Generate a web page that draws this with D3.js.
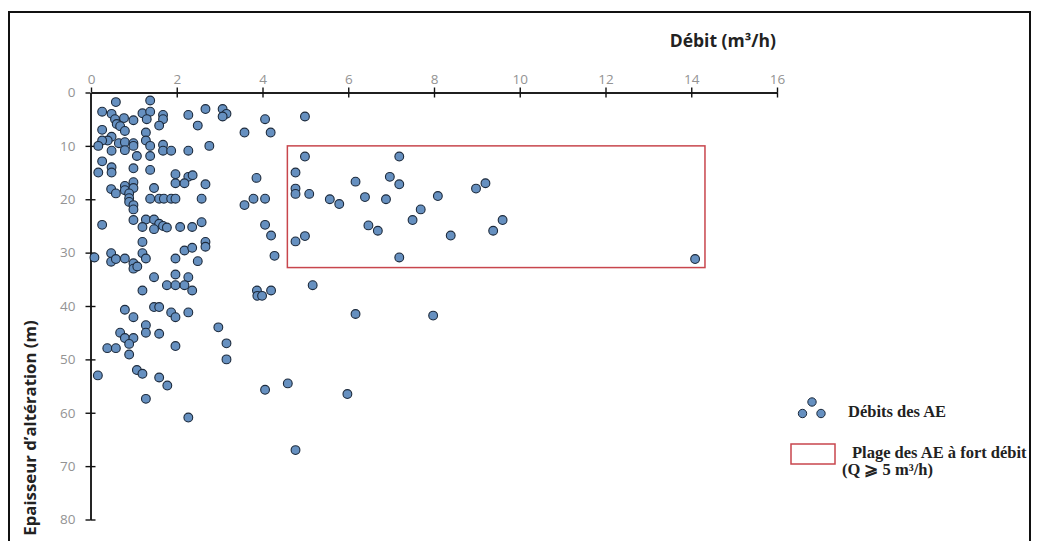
<!DOCTYPE html>
<html><head><meta charset="utf-8">
<script src="https://cdn.jsdelivr.net/npm/d3@7"></script>
<style>body{margin:0;background:#fff}svg{display:block}</style>
</head><body>
<svg id="c" width="1039" height="541"></svg>
<script>
// Débit (m3/h)
const debit = [0.58,1.38,0.26,0.48,1.20,1.38,1.68,2.67,3.07,3.16,3.07,2.27,4.06,4.99,0.56,0.77,0.99,1.30,1.68,0.60,0.68,0.79,0.26,1.28,1.59,2.49,3.58,4.19,0.48,0.39,0.26,0.17,0.65,0.79,0.99,0.99,1.28,1.38,0.79,0.48,1.68,1.68,1.87,2.27,2.76,1.07,1.38,0.26,4.99,7.19,
0.48,0.17,0.48,0.99,1.38,1.97,2.27,2.37,1.97,2.18,2.67,3.86,0.47,0.58,0.79,0.79,0.99,0.99,0.89,0.89,1.47,1.38,1.59,1.70,1.87,1.97,2.58,3.58,3.79,4.06,0.89,0.99,0.99,4.77,4.77,4.77,5.09,5.57,5.79,6.17,6.39,6.47,6.69,6.88,6.97,7.19,7.50,7.69,8.09,8.39,8.98,9.20,9.38,9.60,4.77,4.99,0.26,0.99,1.28,1.47,1.59,1.20,1.47,1.68,1.77,2.08,2.36,2.58,4.06,4.20,1.20,2.67,2.67,
2.18,2.36,0.08,0.47,0.47,0.58,0.79,0.99,0.99,1.08,1.20,1.28,1.97,2.49,4.28,7.19,14.09,1.47,1.97,2.27,1.77,1.97,2.18,2.36,1.20,3.87,3.88,3.99,4.20,5.17,
0.79,0.99,1.47,1.59,1.87,1.97,2.27,1.28,2.97,1.28,0.68,0.79,0.99,1.59,0.89,0.38,0.58,1.97,3.16,0.89,3.16,6.17,7.98,0.16,1.07,1.20,1.59,1.78,1.28,2.27,4.06,4.59,5.98,4.77];
// Epaisseur d'altération (m)
const epaisseur = [1.8,1.5,3.6,4.0,3.9,3.6,4.2,3.1,3.1,4.0,4.5,4.2,5.0,4.5,5.0,4.8,5.2,5.0,5.0,5.9,6.3,7.2,7.0,7.5,6.2,6.2,7.5,7.5,8.3,9.0,9.0,10.0,9.5,9.3,9.5,10.0,9.0,10.0,10.8,10.9,9.8,10.9,10.9,10.9,10.0,11.9,11.9,12.9,12.0,12.0,
14.0,15.0,15.0,14.2,14.5,15.3,15.8,15.5,17.0,17.0,17.2,16.0,18.1,18.9,17.5,18.3,16.8,17.9,18.9,19.8,17.9,19.9,19.9,19.9,19.9,19.9,19.9,21.1,19.9,19.9,20.5,21.1,21.9,15.0,18.0,19.0,19.0,20.0,20.9,16.7,19.6,24.9,25.9,20.0,15.8,17.2,23.9,21.9,19.4,26.8,18.0,17.0,25.9,23.9,27.9,26.9,24.8,23.9,23.8,23.8,24.6,25.2,25.6,25.0,25.3,25.2,25.2,24.3,24.8,26.8,28.0,28.0,28.9,
29.6,29.1,30.9,30.1,31.7,31.2,31.1,32.0,33.0,32.6,30.1,31.1,31.1,31.6,30.6,30.9,31.2,34.6,34.1,34.6,36.1,36.1,36.1,37.1,37.1,37.1,38.1,38.1,37.1,36.1,
40.7,42.1,40.2,40.2,41.2,42.1,41.2,43.6,44.0,45.0,45.0,46.0,46.0,45.2,47.1,47.9,47.9,47.5,47.0,49.1,50.0,41.5,41.8,53.0,52.0,52.7,53.4,54.9,57.4,60.9,55.7,54.5,56.5,67.0];
const xTicks = [0,2,4,6,8,10,12,14,16];
const yTicks = [0,10,20,30,40,50,60,70,80];
// high-flow range box: [debit min, debit max], [epaisseur min, epaisseur max]
const zoneDebit = [4.58, 14.32];
const zoneEpaisseur = [10, 32.8];
const xTitle = "Débit (m³/h)";
const yTitle = "Epaisseur d’altération (m)";
const legendLabels = ["Débits des AE", "Plage des AE à fort débit", "(Q ⩾ 5 m³/h)"];

const svg = d3.select("#c");
const x = d3.scaleLinear().domain([0,16]).range([91,777]);
const y = d3.scaleLinear().domain([0,80]).range([92.5,519.5]);
const sans = "'Open Sans', 'DejaVu Sans', sans-serif";
const serif = "'Liberation Serif', 'DejaVu Serif', serif";

// outer frame
svg.append("rect").attr("x",9).attr("y",12).attr("width",1021).attr("height",545)
  .attr("fill","none").attr("stroke","#111").attr("stroke-width",2);

// axes
function styleAxis(g, showText){
  g.select(".domain").attr("stroke","#111").attr("stroke-width",1.4);
  g.selectAll(".tick line").attr("stroke","#111").attr("stroke-width",1.4);
  g.selectAll(".tick text").attr("fill","#939393").style("font-family",sans).style("font-size","13.5px");
  if(!showText) g.selectAll(".tick text").remove();
}
const gx1 = svg.append("g").attr("transform",`translate(0,${y(0)})`)
  .call(d3.axisTop(x).tickValues(xTicks).tickSize(5).tickPadding(3.5).tickSizeOuter(0));
styleAxis(gx1,true);
const gx2 = svg.append("g").attr("transform",`translate(0,${y(0)})`)
  .call(d3.axisBottom(x).tickValues(xTicks.slice(1)).tickSize(5).tickSizeOuter(0));
styleAxis(gx2,false);
const gy1 = svg.append("g").attr("transform",`translate(${x(0)-0.5},0)`)
  .call(d3.axisLeft(y).tickValues(yTicks).tickSize(5).tickPadding(10).tickSizeOuter(0));
styleAxis(gy1,true);
const gy2 = svg.append("g").attr("transform",`translate(${x(0)-0.5},0)`)
  .call(d3.axisRight(y).tickValues(yTicks.slice(1)).tickSize(5).tickSizeOuter(0));
styleAxis(gy2,false);

// titles
svg.append("text").attr("x",776).attr("y",47).attr("text-anchor","end")
  .style("font-family",sans).style("font-weight","bold").style("font-size","17.5px").attr("fill","#222")
  .text(xTitle);
svg.append("text").attr("transform","translate(36,428) rotate(-90)").attr("text-anchor","middle")
  .style("font-family",sans).style("font-weight","bold").style("font-size","16.8px").attr("fill","#222")
  .text(yTitle);

// high-flow zone
svg.append("rect").attr("x",x(zoneDebit[0])).attr("y",y(zoneEpaisseur[0]))
  .attr("width",x(zoneDebit[1])-x(zoneDebit[0])).attr("height",y(zoneEpaisseur[1])-y(zoneEpaisseur[0]))
  .attr("fill","none").attr("stroke","#c8464d").attr("stroke-width",1.5);

// points
const pts = debit.map((d,i)=>({d, e:epaisseur[i]}));
svg.append("g").selectAll("circle").data(pts).join("circle")
  .attr("cx",p=>x(p.d)).attr("cy",p=>y(p.e)).attr("r",4.4)
  .attr("fill","#6690c0").attr("stroke","#1c2a3c").attr("stroke-width",1.1);

// legend
const lg = svg.append("g");
[[802.5,413.5],[821,413.5],[812,402]].forEach(c=>{
  lg.append("circle").attr("cx",c[0]).attr("cy",c[1]).attr("r",4.2)
    .attr("fill","#6690c0").attr("stroke","#1c2a3c").attr("stroke-width",1);
});
lg.append("text").attr("x",848).attr("y",417).style("font-family",serif).style("font-weight","bold")
  .style("font-size","16.5px").attr("fill","#222").text(legendLabels[0]);
lg.append("rect").attr("x",791).attr("y",444).attr("width",44).attr("height",20)
  .attr("fill","none").attr("stroke","#c8464d").attr("stroke-width",1.5);
lg.append("text").attr("x",852).attr("y",458).style("font-family",serif).style("font-weight","bold")
  .style("font-size","16.5px").attr("fill","#222").text(legendLabels[1]);
lg.append("text").attr("x",842).attr("y",475).style("font-family",serif).style("font-weight","bold")
  .style("font-size","16.5px").attr("fill","#222").text(legendLabels[2]);
</script>
</body></html>
